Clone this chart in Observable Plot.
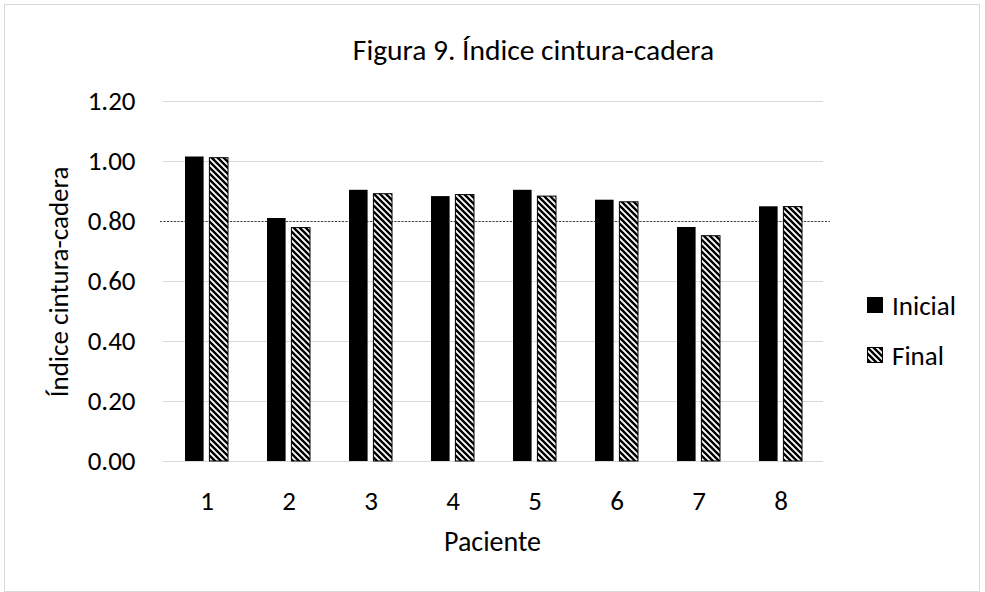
<!DOCTYPE html>
<html>
<head>
<meta charset="utf-8">
<script src="https://cdn.jsdelivr.net/npm/d3@7"></script>
<script src="https://cdn.jsdelivr.net/npm/@observablehq/plot@0.6"></script>
<style>
  html, body { margin: 0; padding: 0; background: #fff; }
  #wrap { position: relative; width: 985px; height: 592px; overflow: hidden; font-family: Carlito, Calibri, Lato, "Open Sans", sans-serif; color: #000; }
  #frame { position: absolute; left: 4px; top: 4px; width: 976px; height: 588px; border: 1px solid #d9d9d9; box-sizing: border-box; }
  #title { position: absolute; left: 0; width: 985px; top: 32px; text-align: center; font-size: 29.5px; line-height: 36px; }
  #title span { position: relative; left: 41px; }
  #ylab { position: absolute; left: 59px; top: 282px; transform: translate(-50%, -50%) rotate(-90deg); font-size: 27px; line-height: 30px; white-space: nowrap; }
  #xlab { position: absolute; left: 0; width: 985px; top: 527px; text-align: center; font-size: 28px; line-height: 30px; }
  #legend { position: absolute; left: 867px; top: 290px; font-size: 27px; }
  .item { display: flex; align-items: center; height: 30px; margin-bottom: 20px; }
  .sw { width: 16px; height: 16px; margin-right: 9px; }
  svg.plot { position: absolute; left: 0; top: 0; }
</style>
</head>
<body>
<div id="wrap">
  <div id="frame"></div>
  <div id="title"><span>Figura 9. Índice cintura-cadera</span></div>
  <div id="ylab">Índice cintura-cadera</div>
  <div id="xlab">Paciente</div>
  <div id="legend"></div>
</div>
<script>
const pacientes = ["1", "2", "3", "4", "5", "6", "7", "8"];
const inicial = [1.015, 0.810, 0.904, 0.883, 0.904, 0.871, 0.780, 0.849];
const final = [1.011, 0.778, 0.891, 0.888, 0.883, 0.864, 0.751, 0.848];
const yTicks = [0, 0.2, 0.4, 0.6, 0.8, 1.0, 1.2];
const referencia = [0.8];
const seriesNames = ["Inicial", "Final"];

const dataInicial = pacientes.map((p, i) => ({p, v: inicial[i]}));
const dataFinal = pacientes.map((p, i) => ({p, v: final[i]}));

const NS = "http://www.w3.org/2000/svg";
function hatchDefs() {
  const defs = document.createElementNS(NS, "defs");
  defs.innerHTML = `<pattern id="hatch" patternUnits="userSpaceOnUse" width="6" height="6">
    <rect width="6" height="6" fill="#fff"/>
    <path d="M-1.5,-1.5 L7.5,7.5 M-1.5,4.5 L1.5,7.5 M4.5,-1.5 L7.5,1.5" stroke="#000" stroke-width="2.4"/>
  </pattern>`;
  return defs;
}

const fontFam = "Carlito, Calibri, Lato, 'Open Sans', sans-serif";

const chart = Plot.plot({
  width: 985,
  height: 592,
  marginTop: 101,
  marginBottom: 131,
  marginLeft: 163,
  marginRight: 162,
  style: { fontFamily: fontFam, fontSize: "27px", color: "#000", background: "transparent" },
  x: { type: "band", domain: pacientes, paddingInner: 0.48, paddingOuter: 0.24, label: null },
  y: { domain: [0, 1.2], label: null },
  marks: [
    hatchDefs,
    Plot.gridY(yTicks, { stroke: "#d9d9d9", strokeOpacity: 1, strokeWidth: 1 }),
    Plot.ruleY(referencia, { stroke: "#404040", strokeDasharray: "2,1.5", strokeWidth: 1, insetLeft: -3, insetRight: -7 }),
    Plot.barY(dataInicial, { x: "p", y: "v", fill: "#000", insetRight: 24.4 }),
    Plot.barY(dataFinal, { x: "p", y: "v", fill: "url(#hatch)", stroke: "#000", strokeWidth: 1, insetLeft: 24.4 }),
    Plot.axisY({ ticks: yTicks, tickFormat: d3.format(".2f"), tickSize: 0, tickPadding: 28, fontSize: 27, label: null }),
    Plot.axisX({ tickSize: 0, tickPadding: 29, fontSize: 27, label: null })
  ]
});
document.getElementById("wrap").appendChild(chart);

const legend = document.getElementById("legend");
seriesNames.forEach((name, i) => {
  const item = document.createElement("div");
  item.className = "item";
  const sw = i === 0
    ? `<svg class="sw" width="16" height="16"><rect width="16" height="16" fill="#000"/></svg>`
    : `<svg class="sw" width="16" height="16"><rect x="0.5" y="0.5" width="15" height="15" fill="url(#hatch)" stroke="#000"/></svg>`;
  item.innerHTML = sw + `<span>${name}</span>`;
  legend.appendChild(item);
});
</script>
</body>
</html>
